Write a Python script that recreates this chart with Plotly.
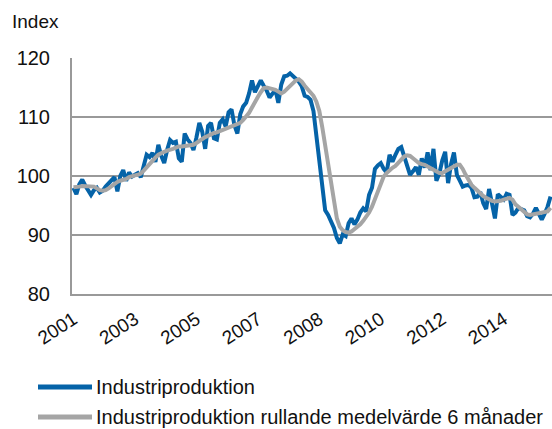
import plotly.graph_objects as go
import pandas as pd

# Monthly categories (Oct 2001 - May 2015)
months = [d.strftime("%Y-%m") for d in pd.date_range("2001-10-01", periods=164, freq="MS")]

# Tick labels shown on the category axis (every 21st month)
tick_months = ["2001-10", "2003-07", "2005-04", "2007-01", "2008-10", "2010-07", "2012-04", "2014-01"]
tick_labels = ["2001", "2003", "2005", "2007", "2008", "2010", "2012", "2014"]

industriproduktion = [
    98.0, 96.9, 98.6, 99.4, 98.4, 97.6, 96.8, 97.6, 98.0, 97.2,
    97.5, 98.2, 98.8, 99.2, 99.8, 97.4, 100.0, 101.0, 99.2, 100.6,
    99.9, 100.2, 100.5, 99.8, 101.5, 103.6, 103.2, 103.9, 102.4, 105.3,
    103.4, 102.2, 104.4, 106.1, 105.6, 105.8, 103.0, 102.4, 107.2, 106.2,
    105.6, 104.4, 106.5, 109.0, 107.5, 104.6, 108.5, 109.0, 106.4, 106.2,
    109.0, 109.6, 108.4, 110.8, 111.3, 108.6, 107.2, 110.5, 111.8, 112.4,
    114.0, 116.2, 114.2, 115.2, 116.2, 115.3, 114.5, 113.3, 114.0, 114.6,
    112.4, 115.5, 116.9, 117.0, 117.4, 117.0, 116.6, 116.0, 115.2, 113.6,
    113.4, 112.9, 111.0, 107.0, 103.0, 99.0, 94.2, 93.4, 92.2, 91.2,
    89.5, 88.6, 90.1, 89.8, 92.0, 92.8, 91.8, 92.6, 93.8, 94.5,
    94.0, 96.8, 98.0, 101.2, 101.8, 102.2, 101.2, 100.6, 103.6, 102.4,
    103.6, 104.6, 104.9, 103.4, 102.2, 100.2, 100.8, 101.5, 100.2, 103.0,
    101.4, 104.0, 101.0, 104.6, 99.2, 100.4, 102.6, 104.1, 98.8, 102.0,
    104.0, 100.2, 99.2, 98.2, 98.4, 98.5, 98.0, 96.4, 96.5, 97.3,
    95.4, 94.4, 97.8, 94.8, 92.8, 96.9, 96.4, 96.0, 97.0, 96.8,
    93.4, 93.8, 94.6, 94.4, 94.2, 93.2, 93.0, 93.6, 94.6, 93.6,
    92.6, 93.6, 94.8, 96.5,
]

rullande_medel = [
    98.1, 98.1, 98.2, 98.3, 98.3, 98.3, 98.2, 98.2, 97.9, 97.6,
    97.5, 97.6, 97.9, 98.3, 98.7, 99.0, 99.2, 99.3, 99.5, 99.8,
    100.0, 100.1, 100.2, 100.4, 100.9, 101.5, 102.0, 102.6, 103.1, 103.6,
    103.9, 104.1, 104.3, 104.4, 104.6, 104.8, 105.0, 105.0, 105.1, 105.1,
    105.2, 105.3, 105.6, 106.0, 106.3, 106.6, 106.8, 107.1, 107.3, 107.4,
    107.6, 107.8, 107.9, 108.1, 108.3, 108.5, 108.7, 109.0, 109.5, 110.1,
    110.7, 111.6, 112.6, 113.4, 114.2, 114.9, 115.0, 114.9, 114.7, 114.6,
    114.3, 114.0, 114.3, 114.8, 115.3, 115.8, 116.2, 116.4, 116.0, 115.3,
    114.8, 114.3, 113.6, 112.6, 111.0, 108.3, 105.2, 102.0, 98.2, 95.3,
    92.8, 91.4, 90.8, 90.5, 90.4, 90.6, 91.0, 91.3, 91.8, 92.4,
    93.0, 93.8, 94.8, 96.2, 97.6, 99.0, 99.9, 100.5, 101.0, 101.4,
    101.7, 102.2, 102.8, 103.3, 103.5, 103.4, 103.0, 102.5, 102.2, 102.0,
    101.9, 101.6, 101.3, 101.0, 100.8, 100.5, 100.5, 100.8, 101.1, 101.3,
    101.6, 101.9, 101.9, 101.2, 100.2, 99.2, 98.5, 98.0, 97.5, 97.0,
    96.6, 96.3, 96.0, 95.8, 95.7, 95.7, 95.8, 96.0, 96.2, 96.3,
    96.0, 95.2, 94.8, 94.4, 93.9, 93.5, 93.4, 93.5, 93.6, 93.7,
    93.8, 93.8, 94.0, 94.6,
]

series_names = ["Industriproduktion", "Industriproduktion rullande medelvärde 6 månader"]
blue = "#0563A8"
grey = "#A5A5A5"
font_family = "Liberation Sans, Arial, sans-serif"

fig = go.Figure()
fig.add_trace(go.Scatter(x=months, y=industriproduktion, mode="lines", name=series_names[0],
                         line=dict(color=blue, width=4), showlegend=False))
fig.add_trace(go.Scatter(x=months, y=rullande_medel, mode="lines", name=series_names[1],
                         line=dict(color=grey, width=4), showlegend=False))

PLOT_H = 236.0
fig.update_layout(
    width=552, height=429,
    margin=dict(l=72, r=0, t=58, b=135),
    paper_bgcolor="white", plot_bgcolor="white",
    font=dict(family=font_family, size=19, color="#111111"),
    xaxis=dict(
        type="category", range=[-0.5, len(months) - 0.5],
        tickmode="array", tickvals=tick_months, ticktext=tick_labels,
        tickangle=-33, showgrid=False, zeroline=False,
        showline=True, linecolor="#999999", linewidth=2,
        ticks="outside", ticklen=5, tickcolor="rgba(0,0,0,0)",
        tickfont=dict(size=19),
    ),
    yaxis=dict(
        range=[80, 120], dtick=10, tick0=80,
        showgrid=True, gridcolor="#999999", gridwidth=2,
        zeroline=False, showline=True, linecolor="#999999", linewidth=2,
        ticks="outside", ticklen=16, tickcolor="rgba(0,0,0,0)",
        tickfont=dict(size=20),
    ),
)

# Axis unit label
fig.add_annotation(xref="paper", yref="paper", x=(10 - 72) / 480, y=(294 - 22) / PLOT_H,
                   text="Index", showarrow=False, xanchor="left", yanchor="middle",
                   font=dict(size=19))

# Manual legend below the chart
legend_rows = [(series_names[0], blue, 387), (series_names[1], grey, 417)]
for name, color, ypx in legend_rows:
    yp = (294 - ypx) / PLOT_H
    fig.add_shape(type="line", xref="paper", yref="paper",
                  x0=(38 - 72) / 480, x1=(92 - 72) / 480, y0=yp, y1=yp,
                  line=dict(color=color, width=5))
    fig.add_annotation(xref="paper", yref="paper", x=(94 - 72) / 480, y=yp,
                       text=name, showarrow=False, xanchor="left", yanchor="middle",
                       font=dict(size=20))

fig.write_html("out.html", config={"displayModeBar": False},
               post_script="document.body.style.margin='0';")
